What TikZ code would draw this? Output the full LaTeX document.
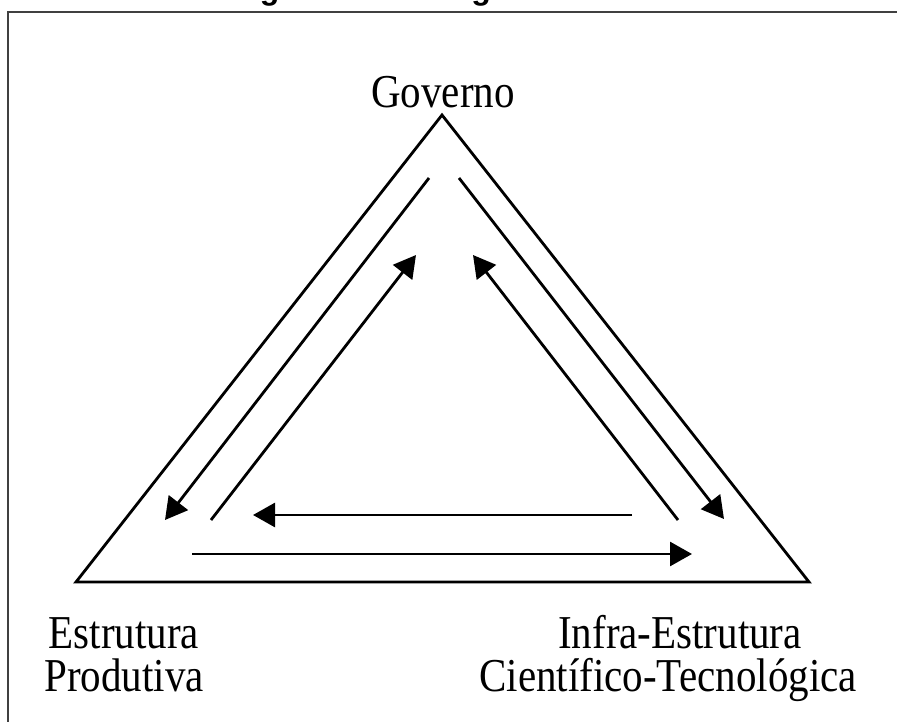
\documentclass[tikz,border=0pt]{standalone}
\usepackage{fontspec}
\usepackage{graphicx}
\setmainfont{Liberation Serif}
\newfontfamily\titlefont{Liberation Sans}
\usetikzlibrary{arrows.meta}
\newcommand{\talltext}[1]{\scalebox{1.0}[1.15]{#1}}
\begin{document}
\begin{tikzpicture}[x=1pt,y=-1pt,
  lbl/.style={inner sep=0pt, anchor=base, font=\fontsize{41}{42}\selectfont},
  tri/.style={line width=2.8pt, line join=miter},
  arr/.style={line width=2.8pt, -{Triangle[length=22pt,width=24pt]}},
  frame/.style={line width=1.4pt, draw=black!75}]
\useasboundingbox (0,0) rectangle (897,722);
\begin{scope}
\clip (0,0) rectangle (897,722);
\node[anchor=base, inner sep=0pt, font=\titlefont\bfseries\fontsize{32}{34}\selectfont] (title) at (466,0) {Figura 1 -- Triângulo de Sábato};
\end{scope}
% frame
\draw[frame] (8,722) -- (8,12) -- (897,12);
% triangle
\coordinate (top) at (442,115);
\coordinate (bl) at (76,582);
\coordinate (br) at (809,582);
\draw[tri] (top) -- (bl) -- (br) -- cycle;
% labels
\node[lbl] (gov) at (443,108) {\talltext{Governo}};
\node[lbl] (ep1) at (124,648) {\talltext{Estrutura}};
\node[lbl] (ep2) at (124,691) {\talltext{Produtiva}};
\node[lbl] (ic1) at (680,648) {\talltext{Infra-Estrutura}};
\node[lbl] (ic2) at (668,691) {\talltext{Científico-Tecnológica}};
% arrow end points
\coordinate (l1s) at (429,178); \coordinate (l1e) at (165,520);
\coordinate (l2s) at (211,520); \coordinate (l2e) at (416,255);
\coordinate (r1s) at (459,178); \coordinate (r1e) at (724,519);
\coordinate (r2s) at (678,520); \coordinate (r2e) at (473,255);
\coordinate (h1s) at (632,515); \coordinate (h1e) at (253,515);
\coordinate (h2s) at (192,554); \coordinate (h2e) at (692,554);
\draw[arr] (l1s) -- (l1e);
\draw[arr] (l2s) -- (l2e);
\draw[arr] (r1s) -- (r1e);
\draw[arr] (r2s) -- (r2e);
\draw[arr] (h1s) -- (h1e);
\draw[arr] (h2s) -- (h2e);
\end{tikzpicture}
\end{document}
